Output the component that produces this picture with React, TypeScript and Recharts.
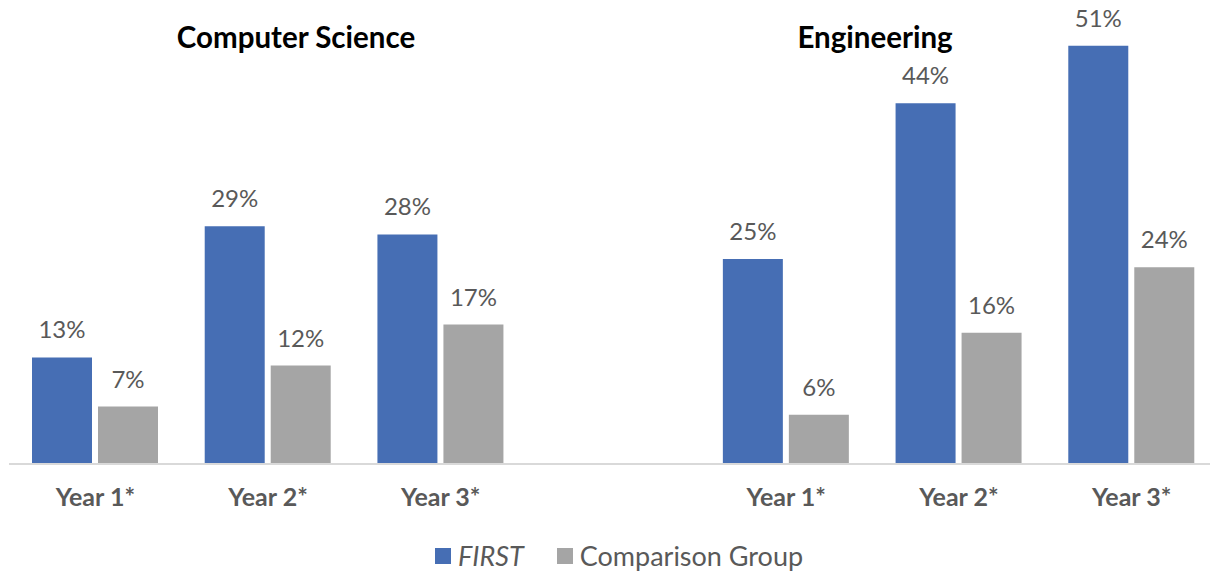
import React from 'react';
import { BarChart, Bar, XAxis, YAxis, LabelList } from 'recharts';

// one axis holds both subjects; the blank slot in the middle splits them
const categories = ['Year 1*', 'Year 2*', 'Year 3*', '', 'Year 1*', 'Year 2*', 'Year 3*'];
const firstValues = [13, 29, 28, null, 25, 44, 51];
const comparisonValues = [7, 12, 17, null, 6, 16, 24];
const panelTitles = ['Computer Science', 'Engineering'];

const FONT = 'Lato, "Open Sans", sans-serif';
const TEXT = '#595959';

const series = [
  { key: 'first', name: 'FIRST', color: '#466EB4', italic: true },
  { key: 'comparison', name: 'Comparison Group', color: '#A5A5A5', italic: false },
];

const rows = categories.map((label, i) => ({
  id: `c${i}`,
  label,
  first: firstValues[i],
  comparison: comparisonValues[i],
}));

const pct = (v: unknown) => (v == null ? '' : `${v}%`);

export default function App() {
  return (
    <div
      style={{
        position: 'fixed',
        top: 0,
        left: 0,
        width: 1210,
        height: 572,
        overflow: 'hidden',
        background: '#fff',
        fontFamily: FONT,
      }}
    >
      {panelTitles.map((t, i) => (
        <div
          key={t}
          style={{
            position: 'absolute',
            top: 19,
            left: i === 0 ? 296 : 875,
            transform: 'translateX(-50%)',
            fontSize: 29.5,
            lineHeight: '36px',
            fontWeight: 700,
            color: '#000',
            whiteSpace: 'nowrap',
          }}
        >
          {t}
        </div>
      ))}

      <BarChart
        width={1230}
        height={514}
        data={rows}
        margin={{ top: 13, right: 12, left: 9, bottom: 0 }}
        barCategoryGap={23}
        barGap={6}
      >
        <XAxis
          dataKey="id"
          tickFormatter={(id: string) => rows.find((r) => r.id === id)?.label ?? ''}
          axisLine={{ stroke: '#D9D9D9', strokeWidth: 2 }}
          tickLine={false}
          tickMargin={18}
          height={50}
          interval={0}
          tick={{ fill: TEXT, fontSize: 25, fontWeight: 700, fontFamily: FONT }}
        />
        <YAxis hide domain={[0, 55]} />
        {series.map((s) => (
          <Bar key={s.key} dataKey={s.key} name={s.name} fill={s.color} isAnimationActive={false}>
            <LabelList
              dataKey={s.key}
              position="top"
              offset={19}
              formatter={pct}
              fill={TEXT}
              fontSize={24}
              fontFamily={FONT}
            />
          </Bar>
        ))}
      </BarChart>

      <div
        style={{
          position: 'absolute',
          top: 540,
          left: 435,
          display: 'flex',
          alignItems: 'center',
          fontSize: 27,
          lineHeight: '32px',
          color: TEXT,
          whiteSpace: 'nowrap',
        }}
      >
        {series.map((s, i) => (
          <div key={s.key} style={{ display: 'flex', alignItems: 'center', marginLeft: i ? 33 : 0 }}>
            <span style={{ width: 16, height: 16, background: s.color, marginRight: 7 }} />
            <span style={{ fontStyle: s.italic ? 'italic' : 'normal' }}>{s.name}</span>
          </div>
        ))}
      </div>
    </div>
  );
}
